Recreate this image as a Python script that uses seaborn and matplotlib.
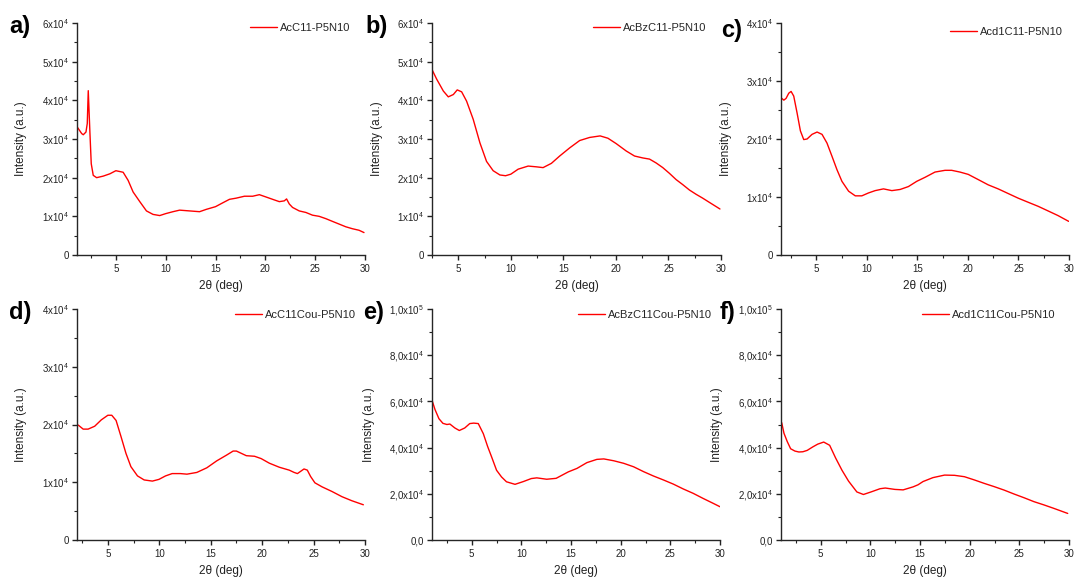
import matplotlib
matplotlib.use("Agg")
import matplotlib.pyplot as plt
import seaborn as sns
import numpy as np
import pandas as pd
from matplotlib.ticker import FixedLocator, MultipleLocator

# ---------------- data (2theta in deg, intensity in a.u.) ----------------
a_x = [1.07, 1.57, 1.73, 2.0, 2.13, 2.23, 2.4, 2.53, 2.73, 3.07, 3.73, 4.4, 5.0, 5.73, 6.23, 6.73,
       7.4, 8.07, 8.73, 9.4, 10.0, 10.73, 11.4, 12.4, 13.4, 14.07, 15.0, 15.73, 16.4, 17.07, 17.9,
       18.73, 19.4, 20.07, 20.73, 21.4, 21.9, 22.13, 22.4, 22.73, 23.4, 24.07, 24.73, 25.4, 26.07,
       26.73, 27.4, 28.07, 28.73, 29.4, 29.9]
a_y = [33300, 31400, 31100, 31800, 34000, 42500, 31400, 23600, 20600, 20000, 20400, 21000, 21800,
       21400, 19300, 16300, 13800, 11400, 10500, 10200, 10700, 11200, 11600, 11400, 11200, 11800,
       12500, 13500, 14400, 14700, 15200, 15200, 15600, 15000, 14400, 13800, 14000, 14500, 13200,
       12300, 11400, 11000, 10300, 10000, 9400, 8700, 8000, 7300, 6800, 6400, 5800]

b_x = [2.53, 2.94, 3.58, 4.05, 4.53, 4.9, 5.32, 5.79, 6.42, 7.06, 7.69, 8.32, 8.96, 9.5, 10.0,
       10.7, 11.65, 12.44, 13.07, 13.86, 14.65, 15.6, 16.55, 17.5, 18.5, 19.24, 20.03, 20.98,
       21.77, 22.56, 23.2, 23.83, 24.46, 25.1, 25.73, 26.36, 27.0, 27.63, 28.26, 28.9, 29.9]
b_y = [47800, 45500, 42400, 40900, 41500, 42700, 42200, 39800, 35100, 29000, 24200, 21800, 20700,
       20500, 20900, 22200, 23000, 22800, 22600, 23700, 25600, 27700, 29600, 30400, 30800, 30200,
       28800, 26900, 25600, 25100, 24800, 23800, 22600, 21100, 19500, 18200, 16800, 15700, 14700,
       13600, 11900]

c_x = [1.51, 1.78, 2.0, 2.27, 2.5, 2.76, 3.09, 3.42, 3.75, 4.08, 4.57, 5.07, 5.56, 6.05, 6.55,
       7.04, 7.53, 8.19, 8.85, 9.5, 10.16, 10.82, 11.64, 12.47, 13.29, 14.11, 14.93, 15.76, 16.74,
       17.73, 18.39, 19.21, 20.03, 21.02, 22.0, 22.99, 23.98, 24.97, 25.95, 26.94, 27.93, 28.91, 29.97]
c_y = [27100, 26700, 27000, 27900, 28200, 27400, 24500, 21400, 19900, 20000, 20800, 21200, 20800,
       19300, 17000, 14700, 12700, 11000, 10200, 10200, 10700, 11100, 11400, 11100, 11300, 11800,
       12700, 13400, 14300, 14600, 14600, 14300, 13900, 13000, 12100, 11400, 10600, 9800, 9100,
       8400, 7600, 6800, 5800]

d_x = [2.12, 2.6, 3.08, 3.72, 4.36, 5.0, 5.38, 5.8, 6.28, 6.76, 7.24, 7.88, 8.53, 9.33, 9.97,
       10.61, 11.25, 12.05, 12.69, 13.65, 14.62, 15.58, 16.54, 17.18, 17.5, 17.98, 18.46, 19.26,
       19.9, 20.7, 21.67, 22.63, 23.11, 23.43, 23.75, 24.07, 24.39, 24.71, 25.13, 25.83, 26.79,
       27.76, 28.72, 29.84]
d_y = [19900, 19200, 19200, 19700, 20800, 21600, 21600, 20700, 17900, 15000, 12700, 11100, 10400,
       10200, 10500, 11100, 11500, 11500, 11400, 11700, 12500, 13700, 14700, 15400, 15400, 15000,
       14600, 14500, 14100, 13300, 12600, 12100, 11700, 11500, 11900, 12300, 12100, 11000, 9900,
       9200, 8400, 7500, 6800, 6100]

e_x = [1.04, 1.3, 1.7, 2.1, 2.5, 2.8, 3.3, 3.75, 4.3, 4.8, 5.2, 5.66, 6.17, 6.6, 7.0, 7.5, 8.0,
       8.5, 9.36, 10.2, 11.0, 11.55, 12.55, 13.5, 14.73, 15.6, 16.6, 17.6, 18.3, 19.3, 20.3, 21.3,
       22.3, 23.3, 24.3, 25.3, 26.3, 27.3, 28.3, 29.3, 30.0]
e_y = [60000, 56500, 52500, 50500, 50000, 50200, 48500, 47400, 48500, 50400, 50600, 50400, 46000,
       40500, 36000, 30200, 27300, 25200, 24100, 25300, 26600, 26900, 26300, 26700, 29500, 31000,
       33500, 34900, 35100, 34300, 33200, 31700, 29600, 27700, 26000, 24200, 22100, 20200, 18000,
       15900, 14400]

f_x = [1.07, 1.3, 1.63, 1.97, 2.4, 2.8, 3.2, 3.64, 4.2, 4.7, 5.3, 5.9, 6.5, 7.14, 7.8, 8.64, 9.3,
       10.13, 10.97, 11.5, 12.47, 13.3, 14.3, 14.8, 15.3, 16.3, 17.47, 18.47, 19.47, 20.47, 21.47,
       22.47, 23.47, 24.47, 25.47, 26.47, 27.47, 28.47, 29.87]
f_y = [50800, 46200, 42600, 39500, 38500, 38100, 38200, 38800, 40300, 41500, 42400, 41000, 35500,
       30200, 25500, 20800, 19700, 20900, 22200, 22500, 21900, 21700, 23000, 23900, 25300, 27000,
       28100, 28000, 27400, 26000, 24500, 23100, 21600, 19900, 18300, 16600, 15200, 13700, 11500]

names = ["AcC11-P5N10", "AcBzC11-P5N10", "Acd1C11-P5N10",
         "AcC11Cou-P5N10", "AcBzC11Cou-P5N10", "Acd1C11Cou-P5N10"]
letters = ["a)", "b)", "c)", "d)", "e)", "f)"]

ytick_ad_top6 = ["0", "1x10$^4$", "2x10$^4$", "3x10$^4$", "4x10$^4$", "5x10$^4$", "6x10$^4$"]
ytick_ad_top4 = ["0", "1x10$^4$", "2x10$^4$", "3x10$^4$", "4x10$^4$"]
ytick_ef = ["0,0", "2,0x10$^4$", "4,0x10$^4$", "6,0x10$^4$", "8,0x10$^4$", "1,0x10$^5$"]

# ---------------- style ----------------
sns.set_style("ticks")
plt.rcParams["font.family"] = ["Liberation Sans", "DejaVu Sans"]
plt.rcParams["mathtext.default"] = "regular"
plt.rcParams["axes.linewidth"] = 1.0

W, H = 1075, 577
fig = plt.figure(figsize=(W / 100, H / 100), dpi=100)

# panel geometry in pixels: left, right, top, bottom
geom = [
    (77, 365, 23, 255), (432, 721, 23, 255), (781, 1069, 23, 255),
    (77, 365, 309, 540), (432, 720, 309, 540), (781, 1069, 309, 540),
]
xlims = [(1.1, 30), (2.5, 30), (1.5, 30), (2.0, 30), (1.0, 30), (1.0, 30)]
series = [(a_x, a_y), (b_x, b_y), (c_x, c_y), (d_x, d_y), (e_x, e_y), (f_x, f_y)]
ycfg = [
    (6e4, 1e4, ytick_ad_top6), (6e4, 1e4, ytick_ad_top6), (4e4, 1e4, ytick_ad_top4),
    (4e4, 1e4, ytick_ad_top4), (1e5, 2e4, ytick_ef), (1e5, 2e4, ytick_ef),
]
ylabel_x = [27, 383, 732, 27, 375, 723]
letter_pos = [(9, 27), (365, 27), (721, 30), (9, 312), (363, 312), (720, 312)]
legend_pos = [(250, 28), (593, 28), (950, 32), (235, 315), (578, 315), (922, 315)]

for i in range(6):
    l, r, t, b = geom[i]
    ax = fig.add_axes([l / W, 1 - b / H, (r - l) / W, (b - t) / H])
    x, y = series[i]
    df = pd.DataFrame({"2theta": x, "I": y})
    sns.lineplot(data=df, x="2theta", y="I", ax=ax, color="#ff0000", linewidth=1.0,
                 sort=False, label=names[i], legend=True)
    ymax, ystep, ylabs = ycfg[i]
    ax.set_xlim(*xlims[i])
    ax.set_ylim(0, ymax)
    ax.xaxis.set_major_locator(FixedLocator([5, 10, 15, 20, 25, 30]))
    ax.xaxis.set_minor_locator(MultipleLocator(2.5))
    ticks = [k * ystep for k in range(len(ylabs))]
    ax.yaxis.set_major_locator(FixedLocator(ticks))
    ax.set_yticklabels(ylabs)
    ax.yaxis.set_minor_locator(MultipleLocator(ystep / 2))
    ax.tick_params(which="major", direction="out", length=3.5, width=1, labelsize=7,
                   colors="#222222")
    ax.tick_params(axis="y", which="major", pad=2)
    ax.tick_params(axis="x", which="major", pad=3)
    ax.tick_params(which="minor", direction="out", length=2, width=0.8, colors="#222222")
    for s in ["top", "right"]:
        ax.spines[s].set_visible(False)
    ax.set_xlabel("2θ (deg)", fontsize=8.5, color="#222222", labelpad=4)
    ax.set_ylabel("Intensity (a.u.)", fontsize=8.5, color="#222222")
    ax.yaxis.set_label_coords((ylabel_x[i] - l) / (r - l), 0.5)
    lx, ly = legend_pos[i]
    ax.legend(loc="center left", bbox_to_anchor=(lx / W, 1 - ly / H),
              bbox_transform=fig.transFigure, frameon=False, fontsize=8,
              handlelength=2.4, handletextpad=0.3, borderpad=0, borderaxespad=0)
    px, py = letter_pos[i]
    fig.text(px / W, 1 - py / H, letters[i], fontsize=17, fontweight="bold",
             ha="left", va="center", color="black")

fig.savefig("out.png", dpi=100)
